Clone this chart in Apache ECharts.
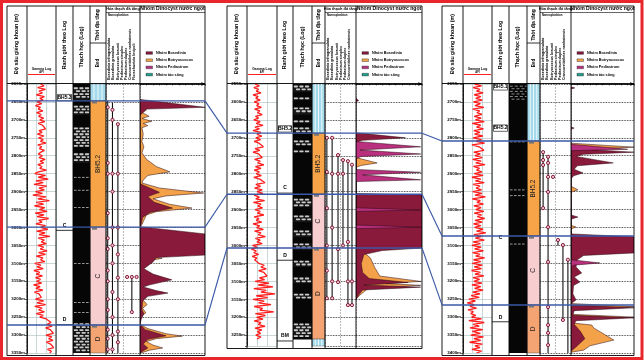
<!DOCTYPE html>
<html><head><meta charset="utf-8">
<script src="https://cdn.jsdelivr.net/npm/echarts/dist/echarts.min.js"></script>
<style>html,body{margin:0;padding:0;background:#fff;}#chart{width:644px;height:361px;}</style>
</head><body><div id="chart"></div>
<script>
// ================= DATA =================
const depthRange1 = [2600, 3350];
const depthRange2 = [2550, 3280];
const depthRange3 = [2650, 3400];
const depthTick = 50;
const gammaRange = [0, 150];
const grStep = 5; // gamma log sampling step (m)

// Gamma log (API), one value every grStep metres from grTop
const gr1Top = 2600;
const gr1 = [
 70,88,55,95,62,80,48,90,66,84,
 52,76,44,70,58,82,50,74,60,86,
 66,92,58,80,70,96,62,78,54,88,
 60,84,70,98,56,76,64,90,72,58,
 80,62,94,68,86,56,78,66,100,60,
 40,96,58,110,46,84,36,102,62,90,
 44,80,30,98,56,116,48,86,38,92,
 64,104,42,88,52,112,60,78,46,96,
 70,108,50,94,62,118,58,90,74,100,
 56,86,68,104,60,96,48,82,70,92,
 40,72,52,84,36,66,48,80,44,70,
 50,76,34,68,46,82,38,62,54,74,
 44,86,52,96,40,78,60,90,48,84,
 66,100,92,124,104,130,96,120,110,136,
 98,128,112,134,100,122,116,138,106,126,
 118];
const gr2Top = 2550;
const gr2 = [
 40,62,34,58,46,70,30,56,44,66,
 36,60,48,72,38,64,52,76,42,58,
 34,66,46,80,40,62,30,70,50,74,
 44,68,36,60,52,82,40,64,30,58,
 48,76,38,66,54,84,42,70,36,62,
 46,72,34,64,56,90,44,68,38,76,
 50,80,36,62,44,88,32,70,54,78,
 40,66,52,84,36,60,46,74,30,64,
 48,82,38,70,56,92,42,66,50,76,
 28,52,22,46,34,58,26,50,38,44,
 60,86,70,96,58,84,74,100,62,88,
 40,110,56,130,34,96,70,140,46,104,
 30,86,58,120,36,78,64,134,42,92,
 48,80,36,70,56,90,40,74,52,68,
 44,70,50];
const gr3Top = 2650;
const gr3 = [
 60,96,52,88,70,104,58,92,66,100,
 54,90,62,108,50,86,72,98,58,94,
 64,110,48,92,70,106,56,88,60,102,
 52,96,68,112,46,84,74,108,56,90,
 62,100,50,94,66,114,54,86,70,98,
 58,104,46,92,64,110,52,88,68,96,
 50,98,62,116,48,90,72,106,56,94,
 66,108,58,96,74,112,62,100,54,92,
 60,104,70,118,56,96,64,110,52,90,
 46,94,60,106,50,88,66,112,54,92,
 48,100,58,96,44,90,62,108,52,86,
 56,98,46,92,60,104,50,88,42,84,
 30,64,22,58,36,70,26,54,40,66,
 44,96,30,110,52,84,36,102,48,90,
 40,106,56,92,34,100,62,88,46,96,
 70];

// Log boundaries: [label depth, line depth or null, text, boxed]
const bounds1 = [[2638,null,'BH5.3',1],[2996,3008,'C',0],[3257,3271,'D',0]];
const bounds2 = [[2675,null,'BH5.2',1],[2840,2854,'C',0],[3027,3041,'D',0],[3250,3266,'BM',0]];
const bounds3 = [[2658,null,'BH5.1',1],[2773,null,'BH5.2',1],[3077,null,'C',0],[3300,3313,'D',0]];

// Chronostratigraphic units: [top, bottom, kind, label]
const strat1 = [[2600,2647,'blue',''],[2647,2999,'orange','BH5.2'],[2999,3272,'pink','C'],[3272,3350,'salmon','D']];
const strat2 = [[2550,2687,'blue',''],[2687,2857,'orange','BH5.2'],[2857,3007,'pink','C'],[3007,3261,'salmon','D'],[3261,3280,'blue','']];
const strat3 = [[2650,2809,'blue',''],[2809,3074,'orange','BH5.2'],[3074,3266,'pink','C'],[3266,3400,'salmon','D']];

// Lithology: base column extent, then beds [top, bottom, type]
const lithoBase1 = [2600,3350], lithoBase2 = [2550,3262], lithoBase3 = [2650,3400];
const litho1 = [[2608,2645,'sand'],[2659,2686,'sand'],[2720,2776,'sand'],[2792,2820,'sand'],[2859,2862,'str'],[2895,2898,'str'],[2943,2946,'str'],[3099,3102,'str'],[3208,3211,'str'],[3236,3239,'str'],[3266,3350,'sand']];
const litho2 = [[2553,2572,'sand'],[2586,2595,'sand'],[2614,2636,'sand'],[2650,2659,'sand'],[2670,2684,'sand'],[2706,2720,'sand'],[2734,2742,'sand'],[2868,2893,'sand'],[2915,2935,'sand'],[2957,2977,'sand'],[2993,3013,'sand'],[3041,3060,'sand'],[3088,3105,'sand'],[3133,3147,'sand'],[3216,3255,'sand']];
const litho3 = [[2652,2700,'silt'],[2810,2813,'str'],[2944,2947,'str'],[2960,2963,'str'],[3095,3098,'str']];

// Index fossil ranges [column pos 0-10, top, bottom] and sample markers [pos, depth]
const fRanges1 = [[0.5,2647,3350],[1.9,2652,3350],[3.5,2712,3350],[7.6,3138,3236]];
const fMarks1 = [[0.5,2665],[0.5,2820],[0.5,2850],[0.5,2960],[0.5,3030],[0.5,3060],[0.5,3120],[0.5,3150],[0.5,3200],[0.5,3230],[0.5,3285],[0.5,3310],[0.5,3340],
 [1.9,2672],[1.9,2700],[1.9,2850],[1.9,2900],[1.9,3000],[1.9,3050],[1.9,3100],[1.9,3180],[1.9,3250],[1.9,3300],[1.9,3340],
 [3.5,2712],[3.5,2850],[3.5,3000],[3.5,3075],[3.5,3140],[3.5,3200],[3.5,3290],[3.5,3320],
 [6.2,3138],[7.6,3138],[7.6,3236],[9.0,3138]];
const fRanges2 = [[0.6,2700,3147],[2.3,2700,3147],[4.2,2748,3102],[5.8,2762,3000],[7.4,2765,3166],[8.7,2775,3166]];
const fMarks2 = [[0.6,2700],[0.6,2795],[0.6,2896],[0.6,3000],[0.6,3070],[0.6,3147],[2.3,2700],[2.3,2800],[2.3,2950],[2.3,3100],[2.3,3147],
 [4.2,2748],[4.2,2800],[4.2,3010],[4.2,3102],[5.8,2762],[5.8,2800],[5.8,3000],[7.4,2765],[7.4,2990],[7.4,3100],[7.4,3166],[8.7,2775],[8.7,3100],[8.7,3166]];
const fRanges3 = [[1.0,2840,2996],[2.6,2853,3400],[5.8,3085,3100],[7.4,3099,3308],[9.0,3140,3400]];
const fMarks3 = [[1.0,2840],[1.0,2862],[1.0,2876],[1.0,2996],[2.6,2853],[2.6,2870],[2.6,2909],[2.6,2951],[2.6,3049],[2.6,3146],[2.6,3272],[2.6,3322],[2.6,3344],[2.6,3378],
 [4.2,2909],[5.8,3085],[7.4,3099],[7.4,3308],[9.0,3140]];

// Freshwater dinocyst groups: [abundance 0-100, depth]
const orange1 = [[0,2664],[10,2672],[4,2680],[14,2690],[3,2696],[18,2704],[5,2710],[12,2716],[3,2722],[5,2740],[3,2760],[6,2775],[3,2792],[10,2810],[25,2830],[46,2845],[12,2855],[5,2868],[3,2876],[30,2890],[98,2904],[40,2912],[20,2920],[45,2935],[80,2946],[25,2956],[10,2965],[6,2980],[3,2992],[0,3000],[0,3078],[34,3086],[10,3094],[3,3110],[0,3120],[0,3195],[6,3205],[11,3215],[4,3225],[9,3238],[3,3246],[0,3255],[0,3270],[12,3282],[40,3296],[65,3303],[25,3310],[10,3318],[20,3328],[35,3336],[15,3342],[5,3348],[0,3350]];
const dark1 = [[0,2643],[100,2665],[10,2670],[4,2680],[0,2688],[0,2878],[15,2890],[30,2902],[12,2914],[22,2930],[50,2946],[15,2958],[4,2972],[2,2990],[0,2998],[100,3018],[100,3077],[25,3084],[20,3096],[6,3115],[20,3130],[49,3146],[15,3160],[5,3166],[25,3176],[43,3183],[12,3192],[4,3205],[3,3230],[6,3240],[2,3255],[0,3270],[8,3285],[40,3302],[12,3312],[5,3325],[12,3336],[4,3345],[0,3350]];
const magenta1 = [];
const orange2 = [[0,2755],[32,2770],[8,2777],[0,2782],[0,2800],[12,2808],[0,2815],[0,3008],[10,3016],[22,3035],[28,3060],[36,3085],[98,3100],[45,3106],[98,3111],[18,3120],[6,3138],[0,3150]];
const dark2 = [[0,2590],[4,2596],[0,2600],[0,2686],[75,2700],[10,2707],[0,2712],[0,2855],[100,2859],[100,3007],[40,3014],[12,3025],[8,3050],[10,3075],[20,3092],[79,3103],[12,3110],[98,3116],[10,3124],[4,3138],[0,3150]];
const magenta2 = [[0,2710],[98,2725],[6,2734],[98,2745],[8,2752],[0,2758],[0,2788],[98,2796],[10,2803],[98,2817],[0,2822],[0,2895],[98,2901],[0,2905],[0,2943],[98,2949],[0,2953]];
const orange3 = [[0,2815],[100,2826],[10,2834],[0,2840],[0,2935],[11,2945],[0,2952],[0,3044],[8,3049],[0,3054],[0,3262],[100,3271],[10,3278],[0,3285],[0,3292],[100,3300],[10,3306],[0,3312],[0,3316],[33,3322],[36,3330],[68,3364],[30,3380],[20,3392],[0,3398]];
const dark3 = [[0,2658],[6,2661],[0,2664],[0,2770],[5,2773],[0,2776],[0,2830],[100,2840],[20,2846],[8,2852],[67,2870],[10,2878],[5,2888],[19,2898],[4,2906],[0,2915],[0,3015],[11,3021],[0,3027],[0,3068],[100,3076],[100,3121],[20,3128],[10,3140],[8,3160],[17,3177],[5,3188],[14,3202],[4,3212],[3,3235],[8,3252],[2,3260],[0,3266],[100,3274],[5,3282],[3,3295],[100,3302],[8,3310],[5,3320],[15,3340],[22,3360],[10,3380],[0,3395]];
const magenta3 = [[0,2818],[90,2832],[0,2836],[0,3140],[46,3149],[5,3155],[0,3160]];

// Correlation surfaces (tops of BH5.2, C, D)
const tops1 = [2647,2999,3272], tops2 = [2687,2857,3007], tops3 = [2809,3074,3266];

const legendNames = ['Nhóm Bosedinia','Nhóm Botryococcus','Nhóm Pediastrum','Nhóm tảo sông'];
const speciesNames = ['Bosedinia infragranulata','Bosedinia granulata','Botryococcus braunii','Pediastrum simplex','Pediastrum duplex','Crassoretitriletes nanhaiensis','Florschuetzia levipoli','Verrutricolporites'];

// ================= STYLE / LAYOUT =================
const FONT = 'Liberation Sans, Arial, sans-serif';
const BLUE = '#3a58a6';
const STRAT_COL = {blue:'#a3d9ea', orange:'#f6a447', pink:'#f8cdd0', salmon:'#f3a472'};
const C_DARK = '#8a1a3c', C_ORANGE = '#f4a24a', C_MAG = '#b8307e', C_TEAL = '#1b9e8a';
const LAYOUT = [
 {edges:[7,27,56,73,90,106,140,205], top:84, bottom:353},
 {edges:[227,247,277,293,312,325,356,422], top:84, bottom:346},
 {edges:[442,463,492,509,527,540,571,634], top:84, bottom:353}
];
const PANELS = [
 {range:depthRange1, grTop:gr1Top, gr:gr1, bounds:bounds1, strat:strat1, lithoBase:lithoBase1, litho:litho1, fR:fRanges1, fM:fMarks1, orange:orange1, dark:dark1, magenta:magenta1, tops:tops1},
 {range:depthRange2, grTop:gr2Top, gr:gr2, bounds:bounds2, strat:strat2, lithoBase:lithoBase2, litho:litho2, fR:fRanges2, fM:fMarks2, orange:orange2, dark:dark2, magenta:magenta2, tops:tops2},
 {range:depthRange3, grTop:gr3Top, gr:gr3, bounds:bounds3, strat:strat3, lithoBase:lithoBase3, litho:litho3, fR:fRanges3, fM:fMarks3, orange:orange3, dark:dark3, magenta:magenta3, tops:tops3}
];

// ================= RENDERERS =================
function boundsRender(list){ return function(params, api){
  const b=list[params.dataIndex], cs=params.coordSys;
  const yl=api.coord([0,b[0]])[1];
  const ch=[];
  if(b[3]) ch.push({type:'rect', shape:{x:cs.x+1.5, y:yl-3.2, width:cs.width-3, height:6.4}, style:{fill:'#fff', stroke:'#000', lineWidth:0.6}});
  ch.push({type:'text', x:cs.x+cs.width/2, y:yl, style:{text:b[2], fontSize:5, fontWeight:'bold', fontFamily:FONT, fill:'#000', align:'center', verticalAlign:'middle'}});
  if(b[1]!=null){ const ly=api.coord([0,b[1]])[1]; ch.push({type:'line', shape:{x1:cs.x, y1:ly, x2:cs.x+cs.width, y2:ly}, style:{stroke:'#000', lineWidth:0.8}}); }
  return {type:'group', children:ch};
};}
function stratRender(list){ return function(params, api){
  const u=list[params.dataIndex], cs=params.coordSys;
  const y0=api.coord([0,u[0]])[1], y1=api.coord([0,u[1]])[1];
  const ch=[{type:'rect', shape:{x:cs.x, y:y0, width:cs.width, height:y1-y0}, style:{fill:STRAT_COL[u[2]], stroke:'#333', lineWidth:0.4}}];
  if(u[2]==='blue'){ for(let k=1;k<4;k++){ const x=cs.x+cs.width*k/4; ch.push({type:'line', shape:{x1:x,y1:y0,x2:x,y2:y1}, style:{stroke:'#fff', lineWidth:0.8}}); } }
  else {
    ch.push({type:'rect', shape:{x:cs.x+2, y:y0+0.6, width:5, height:2}, style:{fill:'#777'}});
  }
  if(u[3]) ch.push({type:'text', x:cs.x+cs.width/2, y:(y0+y1)/2, rotation:Math.PI/2, style:{text:u[3], fontSize:6.5, fontFamily:FONT, fill:'#222', align:'center', verticalAlign:'middle'}});
  return {type:'group', children:ch};
};}
function lithoRender(list){ return function(params, api){
  const it=list[params.dataIndex], cs=params.coordSys;
  const y0=api.coord([0,it[0]])[1], y1=api.coord([0,it[1]])[1];
  const ch=[];
  if(it[2]==='base'){ ch.push({type:'rect', shape:{x:cs.x,y:y0,width:cs.width,height:y1-y0}, style:{fill:'#060606'}}); }
  else if(it[2]==='sand'){
    ch.push({type:'rect', shape:{x:cs.x,y:y0,width:cs.width,height:y1-y0}, style:{fill:'#161616'}});
    let r=0;
    for(let y=y0+0.5; y<y1-1.6; y+=2.9, r++){
      const off=(r%2)?2.9:0.7;
      for(let x=cs.x+off; x<cs.x+cs.width-1.5; x+=5.6){
        ch.push({type:'rect', shape:{x:x, y:y, width:Math.min(4.3, cs.x+cs.width-0.6-x), height:1.8, r:0.8}, style:{fill:'#c9c9c9'}});
      }
    }
  } else if(it[2]==='str'){
    for(let x=cs.x+1; x<cs.x+cs.width-1.5; x+=4) ch.push({type:'rect', shape:{x:x, y:y0, width:2.6, height:0.9}, style:{fill:'#aaa'}});
  } else if(it[2]==='silt'){
    let r=0;
    for(let y=y0+1; y<y1-1; y+=2.6, r++){
      const off=(r%2)?2.5:0.8;
      for(let x=cs.x+off; x<cs.x+cs.width-1.5; x+=5) ch.push({type:'rect', shape:{x:x, y:y, width:3, height:0.9}, style:{fill:'#9a9a9a'}});
    }
  }
  return {type:'group', children:ch};
};}
function rangeRender(list){ return function(params, api){
  const r=list[params.dataIndex];
  const a=api.coord([r[0],r[1]]), b=api.coord([r[0],r[2]]);
  return {type:'line', shape:{x1:a[0],y1:a[1],x2:b[0],y2:b[1]}, style:{stroke:'#111', lineWidth:1.1}};
};}
function polyRender(pts, fill){ return function(params, api){
  if(params.dataIndex!==0 || !pts.length) return null;
  return {type:'polygon', shape:{points:pts.map(d=>api.coord(d))}, style:{fill:fill, stroke:'#2a0810', lineWidth:0.5}};
};}

// ================= OPTION =================
const grid=[], xAxis=[], yAxis=[], series=[], gammaAxis=[];
PANELS.forEach((pd,p)=>{
  const L=LAYOUT[p], e=L.edges, base=grid.length;
  for(let c=1;c<=6;c++) grid.push({left:e[c], width:e[c+1]-e[c], top:L.top, height:L.bottom-L.top, containLabel:false, outerBoundsMode:'none'});
  const yb={type:'value', inverse:true, min:pd.range[0], max:pd.range[1], interval:depthTick};
  const noAx={axisLine:{show:false}, axisTick:{show:false}, axisLabel:{show:false}};
  xAxis.push({gridIndex:base, type:'value', min:gammaRange[0], max:gammaRange[1], interval:50, ...noAx, splitLine:{show:true, lineStyle:{color:'#a8bcbc', width:0.6}}});
  yAxis.push({...yb, gridIndex:base, axisLine:{show:true, lineStyle:{color:'#000', width:0.8}}, axisTick:{show:true, length:2, lineStyle:{color:'#000', width:0.6}}, minorTick:{show:true, splitNumber:5, length:1, lineStyle:{color:'#000', width:0.4}}, axisLabel:{show:true, formatter:v=>String(v)+'m', fontSize:4.4, fontWeight:'bold', fontFamily:FONT, color:'#000', margin:2, showMaxLabel: pd.range[1]%depthTick===0}, splitLine:{show:true, lineStyle:{color:'#a8bcbc', width:0.6}}});
  gammaAxis.push(base);
  for(let c=2;c<=4;c++){ xAxis.push({gridIndex:base+c-1, type:'value', min:0, max:1, show:false}); yAxis.push({...yb, gridIndex:base+c-1, show:false}); }
  xAxis.push({gridIndex:base+4, type:'value', min:0, max:10, interval:5, ...noAx, splitLine:{show:true, lineStyle:{color:'#777', type:'dashed', width:0.5}}});
  yAxis.push({...yb, gridIndex:base+4, ...noAx, splitLine:{show:true, lineStyle:{color:'#111', type:'dotted', width:0.8}}});
  xAxis.push({gridIndex:base+5, type:'value', position:'top', min:0, max:100, interval:10, axisLine:{show:true, symbol:['none','arrow'], symbolSize:[3,4], lineStyle:{color:'#000', width:0.8}}, axisTick:{show:true, inside:true, length:1.5, lineStyle:{color:'#000', width:0.5}}, axisLabel:{show:false}, splitLine:{show:false}});
  yAxis.push({...yb, gridIndex:base+5, ...noAx, splitLine:{show:true, lineStyle:{color:'#111', type:'dotted', width:0.8}}});

  series.push({type:'line', xAxisIndex:base, yAxisIndex:base, data:pd.gr.map((v,i)=>[v, pd.grTop+i*grStep]), showSymbol:false, symbol:'none', lineStyle:{color:'#ff1e1e', width:1.3}, silent:true, z:5});
  series.push({type:'custom', xAxisIndex:base+1, yAxisIndex:base+1, data:pd.bounds.map(b=>[b[0], b[1]==null?b[0]:b[1]]), renderItem:boundsRender(pd.bounds), silent:true});
  const lith=[[pd.lithoBase[0],pd.lithoBase[1],'base'], ...pd.litho];
  series.push({type:'custom', xAxisIndex:base+2, yAxisIndex:base+2, data:lith.map(l=>[l[0],l[1]]), renderItem:lithoRender(lith), silent:true});
  series.push({type:'custom', xAxisIndex:base+3, yAxisIndex:base+3, data:pd.strat.map(s=>[s[0],s[1]]), renderItem:stratRender(pd.strat), silent:true});
  series.push({type:'custom', xAxisIndex:base+4, yAxisIndex:base+4, data:pd.fR.map(r=>[r[0],r[1],r[2]]), renderItem:rangeRender(pd.fR), silent:true, z:3});
  series.push({type:'scatter', xAxisIndex:base+4, yAxisIndex:base+4, data:pd.fM, symbol:'circle', symbolSize:3.2, itemStyle:{color:'#f2c4cc', borderColor:'#7a1030', borderWidth:0.9, opacity:1}, silent:true, z:4});
  [[pd.orange,C_ORANGE],[pd.dark,C_DARK],[pd.magenta,C_MAG]].forEach(([pts,col])=>{
    series.push({type:'custom', xAxisIndex:base+5, yAxisIndex:base+5, data:pts.length?pts:[[0,pd.range[0]]], renderItem:polyRender(pts,col), clip:true, silent:true, z:2});
  });
});

const chart = echarts.init(document.getElementById('chart'), null, {renderer:'canvas'});
chart.setOption({animation:false, backgroundColor:'#fff', textStyle:{fontFamily:FONT}, grid, xAxis, yAxis, series});

// ================= GRAPHICS =================
function ln(x1,y1,x2,y2,stroke,w,z){ return {type:'line', z:z||40, silent:true, shape:{x1,y1,x2,y2}, style:{stroke:stroke||'#000', lineWidth:w||0.8}}; }
function tx(x,y,text,size,align,bold,fill){ return {type:'text', z:41, silent:true, x, y, style:{text, fontSize:size, fontFamily:FONT, fontWeight:bold===false?'normal':'bold', fill:fill||'#000', align:align||'center', verticalAlign:'middle'}}; }
function rot(x,y,text,size,align){ return {type:'text', z:41, silent:true, x, y, rotation:Math.PI/2, style:{text, fontSize:size, fontFamily:FONT, fontWeight:'bold', fill:'#000', align:align||'center', verticalAlign:'middle'}}; }

const G=[];
G.push({type:'rect', z:60, silent:true, shape:{x:1.5,y:1.5,width:640.5,height:357}, style:{fill:'none', stroke:'#e8262b', lineWidth:3}});
LAYOUT.forEach((L,p)=>{
  const e=L.edges, T=6, HB=83.5, B=L.bottom+2.5;
  const c=i=>(e[i]+e[i+1])/2;
  e.forEach(x=>G.push(ln(x,T,x,B,'#000',0.9)));
  G.push(ln(e[0],T,e[7],T,'#000',0.9), ln(e[0],HB,e[7],HB,'#000',0.9), ln(e[0],B,e[7],B,'#000',0.9));
  G.push(ln(e[4],43,e[5],43,'#000',0.8));
  G.push(ln(e[5],12.5,e[7],12.5,'#000',0.6));
  G.push(rot(c(0),44,'Độ sâu giếng khoan (m)',5.3));
  G.push(rot(c(2),45,'Ranh giới theo Log',5.3));
  G.push(rot(c(3),47,'Thạch học (Log)',5.3));
  G.push(rot(c(4),25,'Thời địa tầng',5));
  G.push(rot(c(4),63,'Bed',4.5));
  G.push(tx(c(1),69,'Gamma Log',3.4), tx(c(1),72.2,'API',2.6));
  G.push(ln(e[1]+1,74.5,e[2]-1,74.5,'#ff2020',1));
  G.push(tx(c(5),9.2,'Hóa thạch đá tầng',3.9));
  G.push(tx(e[5]+2,15.5,'Nannoplankton',2.8,'left'));
  const nSp=Math.floor((e[6]-e[5]-2)/4.2);
  for(let k=0;k<nSp;k++) G.push(rot(e[5]+3.2+k*4.2,80,speciesNames[k%speciesNames.length],3.6,'left'));
  G.push(tx(c(6),9,'Nhóm Dinocyst nước ngọt',5.1));
  [C_DARK,C_ORANGE,C_MAG,C_TEAL].forEach((col,k)=>{
    const y=53+k*7.2;
    G.push({type:'rect', z:41, silent:true, shape:{x:e[6]+6, y:y-1.3, width:6.5, height:2.6}, style:{fill:col, stroke:'#222', lineWidth:0.4}});
    G.push(tx(e[6]+16,y,legendNames[k],3.8,'left'));
  });
});
const ys=PANELS.map((pd,p)=>pd.tops.map(d=>chart.convertToPixel({yAxisIndex:gammaAxis[p]}, d)));
LAYOUT.forEach((L,p)=>{
  ys[p].forEach(y=>G.push(ln(L.edges[0],y,L.edges[7],y,BLUE,1.4,50)));
  if(p<LAYOUT.length-1) ys[p].forEach((y,k)=>G.push(ln(L.edges[7],y,LAYOUT[p+1].edges[0],ys[p+1][k],BLUE,1.1,50)));
});
chart.setOption({graphic:{elements:G}});
</script>
</body></html>
